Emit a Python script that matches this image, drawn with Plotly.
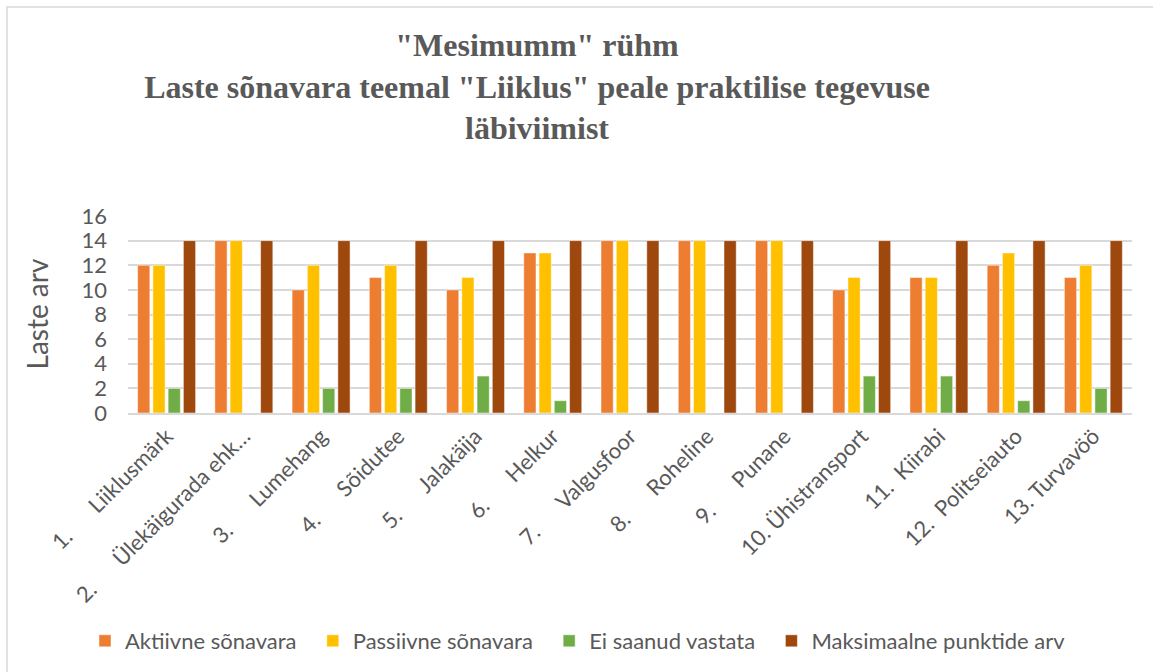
import plotly.graph_objects as go

categories = [
    "1.\u00a0\u00a0\u00a0\u00a0\u00a0\u00a0Liiklusmärk",
    "2.\u00a0\u00a0\u00a0\u00a0\u00a0\u00a0Ülekäigurada ehk…",
    "3.\u00a0\u00a0\u00a0\u00a0\u00a0\u00a0Lumehang",
    "4.\u00a0\u00a0\u00a0\u00a0\u00a0\u00a0Sõidutee",
    "5.\u00a0\u00a0\u00a0\u00a0\u00a0\u00a0Jalakäija",
    "6.\u00a0\u00a0\u00a0\u00a0\u00a0\u00a0Helkur",
    "7.\u00a0\u00a0\u00a0\u00a0\u00a0\u00a0Valgusfoor",
    "8.\u00a0\u00a0\u00a0\u00a0\u00a0\u00a0Roheline",
    "9.\u00a0\u00a0\u00a0\u00a0\u00a0\u00a0Punane",
    "10. Ühistransport",
    "11.\u00a0\u00a0Kiirabi",
    "12.\u00a0\u00a0Politseiauto",
    "13. Turvavöö",
]
aktiivne = [12, 14, 10, 11, 10, 13, 14, 14, 14, 10, 11, 12, 11]
passiivne = [12, 14, 12, 12, 11, 13, 14, 14, 14, 11, 11, 13, 12]
ei_saanud = [2, 0, 2, 2, 3, 1, 0, 0, 0, 3, 3, 1, 2]
maksimaalne = [14, 14, 14, 14, 14, 14, 14, 14, 14, 14, 14, 14, 14]

series = [
    ("Aktiivne sõnavara", aktiivne, "#ED7D31"),
    ("Passiivne sõnavara", passiivne, "#FFC000"),
    ("Ei saanud vastata", ei_saanud, "#70AD47"),
    ("Maksimaalne punktide arv", maksimaalne, "#9E480E"),
]

W, H = 1153, 672
L, R, T, B = 128, 1132, 216, 413

fig = go.Figure()
for name, vals, col in series:
    fig.add_trace(go.Bar(
        x=categories, y=vals, name=name + "\u00a0\u00a0",
        marker=dict(color=col, line=dict(color="rgba(255,255,255,0.6)", width=0.8)),
    ))

gray = "#595959"
fig.update_layout(
    width=W, height=H,
    margin=dict(l=L, r=W - R, t=T, b=H - B, pad=0, autoexpand=False),
    paper_bgcolor="white", plot_bgcolor="white",
    barmode="group", bargap=0.21, bargroupgap=0.2,
    font=dict(family="Lato, Carlito, sans-serif", color=gray, size=22),
    title=dict(
        text='"Mesimumm" rühm<br>Laste sõnavara teemal "Liiklus" peale praktilise tegevuse<br>läbiviimist',
        x=537 / W, xanchor="center", xref="container",
        y=1 - 56 / H, yanchor="top", yref="container",
        font=dict(family="Liberation Serif, Times New Roman, serif", size=32, color=gray, weight="bold"),
    ),
    legend=dict(
        orientation="h", x=85 / W, xanchor="left", xref="container",
        y=1 - 620 / H, yanchor="top", yref="container",
        font=dict(size=22, color=gray), itemwidth=30,
    ),
    showlegend=True,
)
fig.update_yaxes(
    range=[0, 16], dtick=2, showgrid=True, gridcolor="#d9d9d9", gridwidth=1.5,
    zeroline=False, showline=False, ticks="", ticklabelstandoff=20,
    tickfont=dict(size=22, color=gray),
)
fig.update_xaxes(
    showline=True, linecolor="#d9d9d9", linewidth=1.5, ticks="",
    tickangle=-45, tickfont=dict(size=22, color=gray),
)
fig.add_annotation(
    text="Laste arv", textangle=-90, xref="paper", yref="paper",
    x=(36 - L) / (R - L), y=0.5, xanchor="center", yanchor="middle",
    showarrow=False, font=dict(size=28, color=gray),
)
fig.add_shape(
    type="rect", xref="paper", yref="paper",
    x0=(7 - L) / (R - L), x1=(1170 - L) / (R - L),
    y0=(B - 690) / (B - T), y1=(B - 7) / (B - T),
    line=dict(color="#d9d9d9", width=1.5), fillcolor="rgba(0,0,0,0)", layer="below",
)
fig.write_html(
    "out.html",
    config={"displayModeBar": False},
    post_script="document.body.style.margin='0';document.body.style.overflow='hidden';",
)
